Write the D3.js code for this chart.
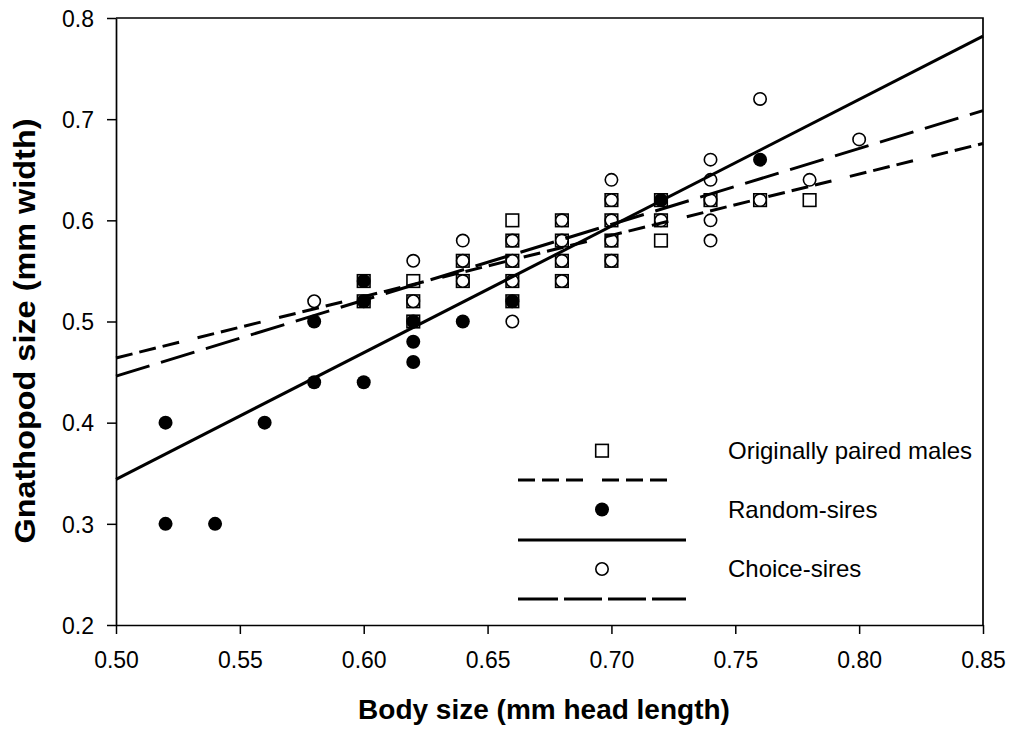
<!DOCTYPE html>
<html>
<head>
<meta charset="utf-8">
<script src="https://cdn.jsdelivr.net/npm/d3@7"></script>
<style>
  body { margin: 0; background: #fff; }
  svg { display: block; font-family: "Liberation Sans", Arial, sans-serif; }
</style>
</head>
<body>
<svg id="chart" width="1013" height="734"></svg>
<script>
// values: [body size, gnathopod size]
const pairedMales = [
  [0.60, 0.54], [0.60, 0.52],
  [0.62, 0.54], [0.62, 0.52], [0.62, 0.50],
  [0.64, 0.56], [0.64, 0.54],
  [0.66, 0.60], [0.66, 0.58], [0.66, 0.56], [0.66, 0.54], [0.66, 0.52],
  [0.68, 0.60], [0.68, 0.58], [0.68, 0.56], [0.68, 0.54],
  [0.70, 0.62], [0.70, 0.60], [0.70, 0.58], [0.70, 0.56],
  [0.72, 0.62], [0.72, 0.60], [0.72, 0.58],
  [0.74, 0.62], [0.76, 0.62], [0.78, 0.62],
];
const randomSires = [
  [0.52, 0.40], [0.52, 0.30], [0.54, 0.30], [0.56, 0.40],
  [0.58, 0.50], [0.58, 0.44],
  [0.60, 0.54], [0.60, 0.52], [0.60, 0.44],
  [0.62, 0.50], [0.62, 0.48], [0.62, 0.46],
  [0.64, 0.50], [0.66, 0.52], [0.72, 0.62], [0.76, 0.66],
];
const choiceSires = [
  [0.58, 0.52],
  [0.62, 0.56], [0.62, 0.52],
  [0.64, 0.58], [0.64, 0.56], [0.64, 0.54],
  [0.66, 0.58], [0.66, 0.56], [0.66, 0.54], [0.66, 0.50],
  [0.68, 0.60], [0.68, 0.58], [0.68, 0.56], [0.68, 0.54],
  [0.70, 0.64], [0.70, 0.62], [0.70, 0.60], [0.70, 0.58], [0.70, 0.56],
  [0.72, 0.60],
  [0.74, 0.66], [0.74, 0.64], [0.74, 0.62], [0.74, 0.60], [0.74, 0.58],
  [0.76, 0.72], [0.76, 0.62],
  [0.78, 0.64], [0.80, 0.68],
];

// regression lines, fitted values at both ends of the x range
const pairedFit = [[0.50, 0.464], [0.85, 0.676]];
const randomFit = [[0.50, 0.344], [0.85, 0.782]];
const choiceFit = [[0.50, 0.446], [0.85, 0.7085]];

const xTicks = [0.50, 0.55, 0.60, 0.65, 0.70, 0.75, 0.80, 0.85];
const yTicks = [0.2, 0.3, 0.4, 0.5, 0.6, 0.7, 0.8];

const legendLabels = ['Originally paired males', 'Random-sires', 'Choice-sires'];

const svg = d3.select('#chart');
const plotLeft = 116, plotRight = 983, plotTop = 18, plotBottom = 625;

const x = d3.scaleLinear().domain([0.50, 0.85]).range([plotLeft, plotRight]);
const y = d3.scaleLinear().domain([0.2, 0.8]).range([plotBottom, plotTop]);

const SHORT_DASH = '17,7,17,7,17,19';
const LONG_DASH = '35,12';

// frame (top + right)
svg.append('path')
  .attr('d', `M${plotLeft},${plotTop}H${plotRight}V${plotBottom}`)
  .attr('fill', 'none')
  .attr('stroke', '#000')
  .attr('stroke-width', 1.7);

const xAxis = svg.append('g')
  .attr('transform', `translate(0,${plotBottom})`)
  .call(d3.axisBottom(x).tickValues(xTicks).tickFormat(d3.format('.2f'))
    .tickSize(9).tickSizeOuter(0).tickPadding(18));

const yAxis = svg.append('g')
  .attr('transform', `translate(${plotLeft},0)`)
  .call(d3.axisLeft(y).tickValues(yTicks).tickFormat(d3.format('.1f'))
    .tickSize(9).tickSizeOuter(0).tickPadding(13));

[xAxis, yAxis].forEach(axis => {
  axis.select('.domain').attr('stroke-width', 1.7);
  axis.selectAll('.tick line').attr('stroke-width', 1.5);
  axis.selectAll('text')
    .attr('font-size', 23)
    .attr('font-family', '"Liberation Sans", Arial, sans-serif')
    .attr('fill', '#000');
});
yAxis.selectAll('text').attr('dy', '0.36em');

svg.append('text')
  .attr('x', 544)
  .attr('y', 719)
  .attr('text-anchor', 'middle')
  .attr('font-size', 28)
  .attr('font-weight', 'bold')
  .text('Body size (mm head length)');

// the y title is drawn taller in the original
svg.append('text')
  .attr('transform', 'translate(35,331) rotate(-90)')
  .attr('text-anchor', 'middle')
  .attr('font-size', 30)
  .attr('font-weight', 'bold')
  .attr('textLength', 425)
  .attr('lengthAdjust', 'spacingAndGlyphs')
  .text('Gnathopod size (mm width)');

// markers: squares first, then filled, then open circles
const plot = svg.append('g');

plot.selectAll('rect.paired')
  .data(pairedMales)
  .enter()
  .append('rect')
  .attr('class', 'paired')
  .attr('x', d => x(d[0]) - 6.3)
  .attr('y', d => y(d[1]) - 6.3)
  .attr('width', 12.6)
  .attr('height', 12.6)
  .attr('fill', '#fff')
  .attr('stroke', '#000')
  .attr('stroke-width', 1.6);

plot.selectAll('circle.random')
  .data(randomSires)
  .enter()
  .append('circle')
  .attr('class', 'random')
  .attr('cx', d => x(d[0]))
  .attr('cy', d => y(d[1]))
  .attr('r', 7)
  .attr('fill', '#000');

plot.selectAll('circle.choice')
  .data(choiceSires)
  .enter()
  .append('circle')
  .attr('class', 'choice')
  .attr('cx', d => x(d[0]))
  .attr('cy', d => y(d[1]))
  .attr('r', 6.2)
  .attr('fill', '#fff')
  .attr('stroke', '#000')
  .attr('stroke-width', 1.6);

const fitLine = d3.line().x(d => x(d[0])).y(d => y(d[1]));

const fits = [
  { points: pairedFit, dash: SHORT_DASH },
  { points: randomFit, dash: null },
  { points: choiceFit, dash: LONG_DASH },
];

plot.selectAll('path.fit')
  .data(fits)
  .enter()
  .append('path')
  .attr('class', 'fit')
  .attr('d', f => fitLine(f.points))
  .attr('fill', 'none')
  .attr('stroke', '#000')
  .attr('stroke-width', 3)
  .attr('stroke-dasharray', f => f.dash);

// legend
const legend = svg.append('g');
const legendRows = [450.7, 509.5, 569];
const legendLines = [
  { y: 480, x2: 668, dash: SHORT_DASH },
  { y: 540, x2: 686, dash: null },
  { y: 599, x2: 686, dash: '40,6,38,6,38,6' },
];

legend.append('rect')
  .attr('x', 602 - 6.3)
  .attr('y', legendRows[0] - 6.3)
  .attr('width', 12.6)
  .attr('height', 12.6)
  .attr('fill', '#fff')
  .attr('stroke', '#000')
  .attr('stroke-width', 1.6);

legend.append('circle')
  .attr('cx', 602)
  .attr('cy', legendRows[1])
  .attr('r', 7)
  .attr('fill', '#000');

legend.append('circle')
  .attr('cx', 602)
  .attr('cy', legendRows[2])
  .attr('r', 6.2)
  .attr('fill', '#fff')
  .attr('stroke', '#000')
  .attr('stroke-width', 1.6);

legend.selectAll('text')
  .data(legendLabels)
  .enter()
  .append('text')
  .attr('x', 728)
  .attr('y', (d, i) => legendRows[i])
  .attr('dy', '0.35em')
  .attr('font-size', 24)
  .text(d => d);

legend.selectAll('line')
  .data(legendLines)
  .enter()
  .append('line')
  .attr('x1', 518)
  .attr('x2', d => d.x2)
  .attr('y1', d => d.y)
  .attr('y2', d => d.y)
  .attr('stroke', '#000')
  .attr('stroke-width', 3)
  .attr('stroke-dasharray', d => d.dash);
</script>
</body>
</html>
